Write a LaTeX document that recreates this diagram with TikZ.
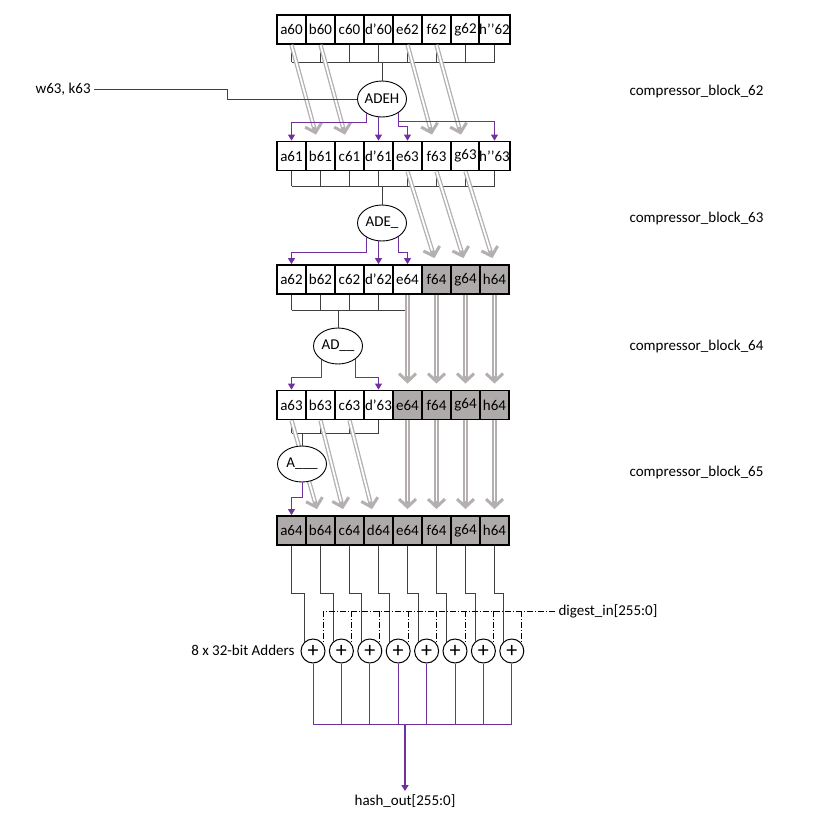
\documentclass[tikz,border=0pt]{standalone}
\usepackage{fontspec}
\setmainfont{Carlito}
\usetikzlibrary{arrows.meta,shapes.geometric,calc}
\definecolor{hpurple}{HTML}{7030A0}
\definecolor{cellgray}{HTML}{AEAAAA}
\definecolor{arrgray}{HTML}{B4B0B0}

\begin{document}
\begin{tikzpicture}[x=1pt, y=-1pt, font=\fontsize{15}{17}\selectfont,
  cell/.style={rectangle, draw, line width=1.8pt, minimum width=29pt, minimum height=29pt, inner sep=0pt, fill=white},
  shaded/.style={cell, fill=cellgray},
  unit/.style={ellipse, draw, line width=0.9pt, fill=white, minimum width=49pt, minimum height=36pt, inner sep=0pt},
  adder/.style={circle, draw, line width=1pt, fill=white, minimum size=24pt, inner sep=0pt, font=\fontsize{22}{22}\selectfont},
  bus/.style={draw=black!75, line width=0.8pt},
  pline/.style={draw=hpurple, line width=0.9pt},
  parrow/.style={pline, -{Triangle[length=6pt,width=7pt]}},
  ddash/.style={draw=black, line width=0.7pt, dash pattern=on 6pt off 2pt on 1pt off 2pt},
  garrow/.style={draw=arrgray, line width=4.4pt, -{Straight Barb[length=8pt,width=17pt,line width=3pt]},
    postaction={draw=white, line width=1.8pt, -, shorten >=8pt}},
  blocklabel/.style={anchor=west}
  ]
\useasboundingbox (0,0) rectangle (833,817);

% Rows of registers
\foreach \t [count=\i] in {a60,b60,c60,d’60,e62,f62,g62,h’’62}
  \node[cell] (r1c\i) at ({291.5+29*(\i-1)}, 29.5) {\t};
\foreach \t [count=\i] in {a61,b61,c61,d’61,e63,f63,g63,h’’63}
  \node[cell] (r2c\i) at ({291.5+29*(\i-1)}, 156) {\t};
\foreach \t/\s [count=\i] in {a62/cell,b62/cell,c62/cell,d’62/cell,e64/cell,f64/shaded,g64/shaded,h64/shaded}
  \node[\s] (r3c\i) at ({291.5+29*(\i-1)}, 279.5) {\t};
\foreach \t/\s [count=\i] in {a63/cell,b63/cell,c63/cell,d’63/cell,e64/shaded,f64/shaded,g64/shaded,h64/shaded}
  \node[\s] (r4c\i) at ({291.5+29*(\i-1)}, 405) {\t};
\foreach \t [count=\i] in {a64,b64,c64,d64,e64,f64,g64,h64}
  \node[shaded] (r5c\i) at ({291.5+29*(\i-1)}, 530.5) {\t};

% Buses into the round functions
\foreach \i in {1,...,8} {
  \draw[bus] (r1c\i.south) -- (r1c\i.south |- 0,62);
  \draw[bus] (r2c\i.south) -- (r2c\i.south |- 0,186);
}
\foreach \i in {1,...,5}
  \draw[bus] (r3c\i.south) -- (r3c\i.south |- 0,310);
\foreach \i in {1,...,4}
  \draw[bus] (r4c\i.south) -- (r4c\i.south |- 0,433);
\draw[bus] (r1c1.south |- 0,62) -- (r1c8.south |- 0,62);
\draw[bus] (r2c1.south |- 0,186) -- (r2c8.south |- 0,186);
\draw[bus] (r3c1.south |- 0,310) -- (r3c5.south |- 0,310);
\draw[bus] (r4c1.south |- 0,433) -- (r4c4.south |- 0,433);

% Shift arrows
\foreach \i/\j in {1/2,2/3,5/6,6/7}
  \draw[garrow] (r1c\i.south) -- ($(r2c\j.north)+(-4.5,-6)$);
\foreach \i/\j in {5/6,6/7,7/8}
  \draw[garrow] (r2c\i.south) -- ($(r3c\j.north)+(-2,-6)$);
\foreach \i in {5,...,8}
  \draw[garrow] (r3c\i.south) -- ($(r4c\i.north)+(0,-6)$);
\foreach \i/\j/\d in {1/2/-3.5,2/3/-6.5,3/4/-6.5}
  \draw[garrow] (r4c\i.south) -- ($(r5c\j.north)+(\d,-6)$);
\foreach \i in {5,...,8}
  \draw[garrow] (r4c\i.south) -- ($(r5c\i.north)+(0,-6)$);

% Round functions
\node[unit] (ADEH) at (382,99) {ADEH};
\node[unit] (ADE) at (382,223) {ADE\_};
\node[unit] (AD) at (338,346) {AD\_\_};
\node[unit] (A) at (302,464) {A\_\_\_};
\draw[bus] (ADEH.north |- 0,62) -- (ADEH.north);
\draw[bus] (ADE.north |- 0,186) -- (ADE.north);
\draw[bus] (AD.north |- 0,310) -- (AD.north);
\draw[bus] (A.north |- 0,433) -- (A.north);

% Message word and constant
\node[anchor=west] (w63) at (32,89) {w63, k63};
\draw[bus] (w63.east) -- (227,89) |- (ADEH.west);

% Updated words
\draw[parrow] (ADEH.223) -- (ADEH.223 |- 0,122) -| (r2c1.north);
\draw[parrow] (r2c4.north |- ADEH.south) -- (r2c4.north);
\draw[parrow] (ADEH.320) -- (ADEH.320 |- 0,121) -| (r2c8.north);
\draw[parrow] (ADEH.320 |- 0,121) -- (ADEH.320 |- 0,126) -| (r2c5.north);

\draw[parrow] (ADE.223) -- (ADE.223 |- 0,252) -| (r3c1.north);
\draw[parrow] (r3c4.north |- ADE.south) -- (r3c4.north);
\draw[parrow] (ADE.320) -- (ADE.320 |- 0,252) -| (r3c5.north);

\draw[parrow] (AD.219) -- (AD.219 |- 0,377) -| (r4c1.north);
\draw[parrow] (AD.324) -- (AD.324 |- 0,377) -| (r4c4.north);

\draw[parrow] (A.south) -- (A.south |- 0,497) -| (r5c1.north);

% Block labels
\node[blocklabel] at (626,91) {compressor\_block\_62};
\node[blocklabel] at (626,218) {compressor\_block\_63};
\node[blocklabel] at (626,346) {compressor\_block\_64};
\node[blocklabel] at (626,472) {compressor\_block\_65};

% Final additions
\foreach \i in {1,...,8}
  \node[adder] (add\i) at ({313+28.4*(\i-1)}, 651) {+};
\node[anchor=east] (addlabel) at (298,650) {8 x 32-bit Adders};
\node[anchor=west] (digest) at (555,611) {digest\_in[255:0]};

\foreach \i in {1,...,8}
  \draw[bus] (r5c\i.south) -- (r5c\i.south |- 0,593) -| (add\i.132);
\draw[ddash] (digest.west) -- (add1.38 |- digest.west);
\foreach \i in {1,...,8}
  \draw[ddash] (add\i.38 |- digest.west) -- (add\i.38);

\foreach \i in {1,...,8}
  \draw[pline] (add\i.south) -- (add\i.south |- 0,724);
\draw[pline] (add1.south |- 0,724) -- (add8.south |- 0,724);
\node (hash) at (405,801) {hash\_out[255:0]};
\draw[parrow, line width=1.4pt] (hash.north |- 0,724) -- (hash.north);

\end{tikzpicture}
\end{document}
